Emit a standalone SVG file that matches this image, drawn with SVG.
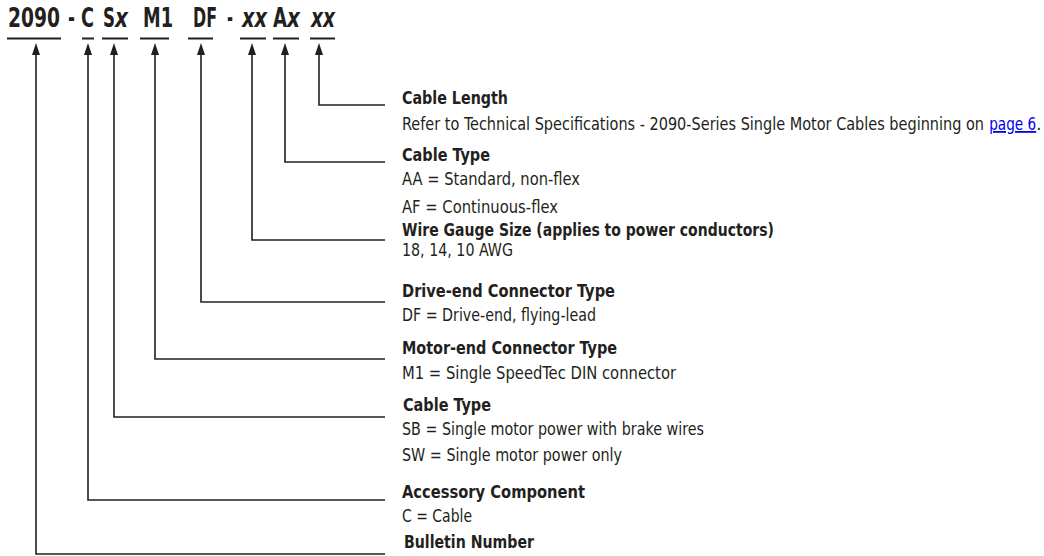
<svg xmlns="http://www.w3.org/2000/svg" width="1044" height="556" viewBox="0 0 1044 556">
<style>
text{font-family:"Liberation Sans Narrow","DejaVu Sans Condensed","Liberation Sans",Arial,sans-serif;fill:#231f20}
.code{font-size:26px;font-weight:bold}
.it{font-style:italic}
.h{font-size:18px;font-weight:bold}
.b{font-size:18px}
.link{fill:#0000ee;text-decoration:underline}
.ul{stroke:#231f20;stroke-width:1.8;fill:none}
.conn{stroke:#231f20;stroke-width:1.6;fill:none;marker-start:url(#arr)}
</style>
<defs>
<marker id="arr" markerUnits="userSpaceOnUse" viewBox="0 0 12 8" markerWidth="12" markerHeight="8" refX="8" refY="4" orient="auto-start-reverse">
<path d="M0,0 L12,4 L0,8 z" fill="#231f20"/>
</marker>
</defs>
<rect width="1044" height="556" fill="#ffffff"/>
<g id="code">
<text class="code" x="8" y="27" textLength="52" lengthAdjust="spacingAndGlyphs">2090</text>
<text class="code" x="68" y="27" textLength="7" lengthAdjust="spacingAndGlyphs">-</text>
<text class="code" x="81" y="27" textLength="13" lengthAdjust="spacingAndGlyphs">C</text>
<text class="code" x="103" y="27" textLength="12" lengthAdjust="spacingAndGlyphs">S</text>
<text class="code it" x="115" y="27" textLength="13" lengthAdjust="spacingAndGlyphs">x</text>
<text class="code" x="143" y="27" textLength="30" lengthAdjust="spacingAndGlyphs">M1</text>
<text class="code" x="193" y="27" textLength="24" lengthAdjust="spacingAndGlyphs">DF</text>
<text class="code" x="227" y="27" textLength="6" lengthAdjust="spacingAndGlyphs">-</text>
<text class="code it" x="242" y="27" textLength="25" lengthAdjust="spacingAndGlyphs">xx</text>
<text class="code" x="273" y="27" textLength="14" lengthAdjust="spacingAndGlyphs">A</text>
<text class="code it" x="287" y="27" textLength="13" lengthAdjust="spacingAndGlyphs">x</text>
<text class="code it" x="311" y="27" textLength="24" lengthAdjust="spacingAndGlyphs">xx</text>
<path class="ul" d="M7,38.5H61 M82,38.5H94 M102,38.5H128 M140,38.5H169 M188,38.5H213 M240,38.5H266 M273,38.5H299 M310,38.5H335"/>
</g>
<g id="connectors">
<path class="conn" d="M319,47V105H385"/>
<path class="conn" d="M285,47V162H385"/>
<path class="conn" d="M252,47V240H385"/>
<path class="conn" d="M201,47V302H385"/>
<path class="conn" d="M155,47V359H385"/>
<path class="conn" d="M114,47V417H385"/>
<path class="conn" d="M88,47V500H385"/>
<path class="conn" d="M36,47V554H385"/>
</g>
<g id="cable-length">
<text class="h" x="402" y="104" textLength="106" lengthAdjust="spacingAndGlyphs">Cable Length</text>
<text class="b" x="402" y="130"><tspan textLength="582" lengthAdjust="spacingAndGlyphs">Refer to Technical Specifications - 2090-Series Single Motor Cables beginning on</tspan> <tspan class="link" textLength="47" lengthAdjust="spacingAndGlyphs">page 6</tspan>.</text>
</g>
<g id="cable-type-a">
<text class="h" x="402" y="161" textLength="88" lengthAdjust="spacingAndGlyphs">Cable Type</text>
<text class="b" x="402" y="185" textLength="178" lengthAdjust="spacingAndGlyphs">AA = Standard, non-flex</text>
<text class="b" x="402" y="213" textLength="156" lengthAdjust="spacingAndGlyphs">AF = Continuous-flex</text>
</g>
<g id="wire-gauge">
<text class="h" x="402" y="236" textLength="372" lengthAdjust="spacingAndGlyphs">Wire Gauge Size (applies to power conductors)</text>
<text class="b" x="402" y="256" textLength="111" lengthAdjust="spacingAndGlyphs">18, 14, 10 AWG</text>
</g>
<g id="drive-end">
<text class="h" x="402" y="297" textLength="213" lengthAdjust="spacingAndGlyphs">Drive-end Connector Type</text>
<text class="b" x="402" y="321" textLength="194" lengthAdjust="spacingAndGlyphs">DF = Drive-end, flying-lead</text>
</g>
<g id="motor-end">
<text class="h" x="402" y="354" textLength="215" lengthAdjust="spacingAndGlyphs">Motor-end Connector Type</text>
<text class="b" x="402" y="379" textLength="274" lengthAdjust="spacingAndGlyphs">M1 = Single SpeedTec DIN connector</text>
</g>
<g id="cable-type-s">
<text class="h" x="403" y="411" textLength="88" lengthAdjust="spacingAndGlyphs">Cable Type</text>
<text class="b" x="402" y="435" textLength="302" lengthAdjust="spacingAndGlyphs">SB = Single motor power with brake wires</text>
<text class="b" x="402" y="461" textLength="220" lengthAdjust="spacingAndGlyphs">SW = Single motor power only</text>
</g>
<g id="accessory">
<text class="h" x="402" y="498" textLength="183" lengthAdjust="spacingAndGlyphs">Accessory Component</text>
<text class="b" x="402" y="522" textLength="70" lengthAdjust="spacingAndGlyphs">C = Cable</text>
</g>
<g id="bulletin">
<text class="h" x="404" y="548" textLength="130" lengthAdjust="spacingAndGlyphs">Bulletin Number</text>
</g>
</svg>
